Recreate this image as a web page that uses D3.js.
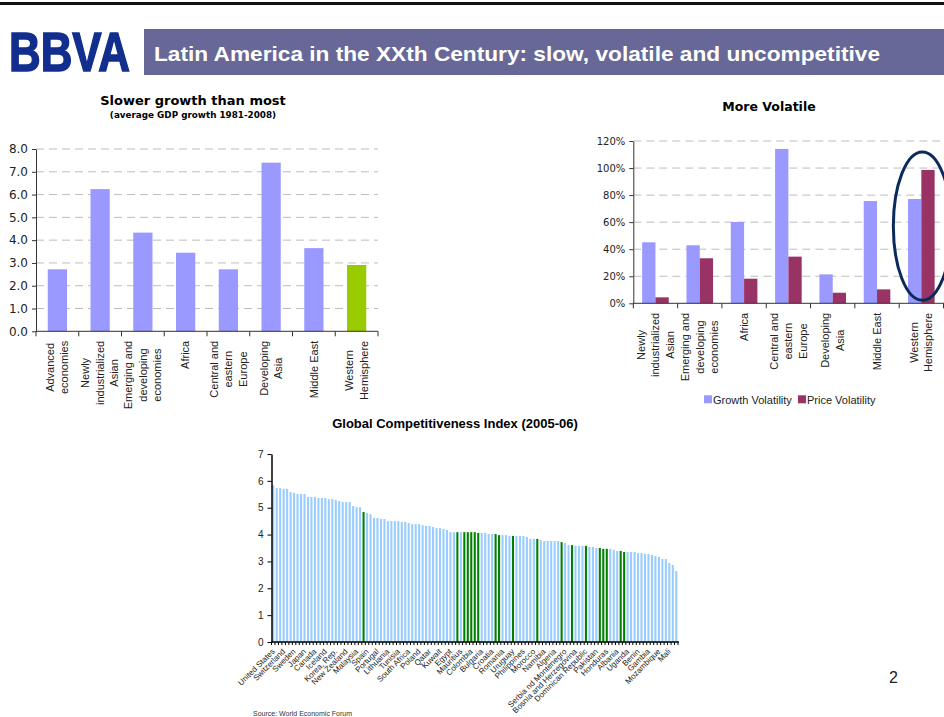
<!DOCTYPE html>
<html>
<head>
<meta charset="utf-8">
<script src="https://cdn.jsdelivr.net/npm/d3@7/dist/d3.min.js"></script>
<style>
  html, body { margin: 0; padding: 0; background: #fff; }
  svg { display: block; }
</style>
</head>
<body>
<svg id="chart" width="944" height="717"></svg>
<script>
// ---------- DATA ----------
const pageTitle = "Latin America in the XXth Century: slow, volatile and uncompetitive";

const growthTitle = "Slower growth than most";
const growthSubtitle = "(average GDP growth 1981-2008)";
const growthCategories = [
  ["Advanced", "economies"],
  ["Newly", "industrialized", "Asian"],
  ["Emerging and", "developing", "economies"],
  ["Africa"],
  ["Central and", "eastern", "Europe"],
  ["Developing", "Asia"],
  ["Middle East"],
  ["Western", "Hemisphere"]
];
const growthValues = [2.72, 6.24, 4.33, 3.45, 2.72, 7.40, 3.65, 2.91];
const growthTicks = [0, 1, 2, 3, 4, 5, 6, 7, 8];
const growthHighlight = "Western Hemisphere";

const volTitle = "More Volatile";
const volCategories = [
  ["Newly", "industrialized", "Asian"],
  ["Emerging and", "developing", "economies"],
  ["Africa"],
  ["Central and", "eastern", "Europe"],
  ["Developing", "Asia"],
  ["Middle East"],
  ["Western", "Hemisphere"]
];
const volSeries = ["Growth Volatility", "Price Volatility"];
const growthVolatility = [45.1, 42.9, 60.1, 114.1, 21.4, 75.6, 77.1];
const priceVolatility = [4.4, 33.3, 18.2, 34.5, 7.8, 10.3, 98.6];
const volTicks = [0, 20, 40, 60, 80, 100, 120];
const volCircled = "Western Hemisphere";

const gciTitle = "Global Competitiveness Index (2005-06)";
const gciValues = [
  5.84, 5.73, 5.73, 5.70, 5.70, 5.58, 5.55, 5.51, 5.51, 5.51,
  5.40, 5.40, 5.40, 5.36, 5.36, 5.36, 5.32, 5.32, 5.29, 5.25,
  5.21, 5.21, 5.21, 5.06, 5.02, 5.02, 4.84, 4.80, 4.76, 4.62,
  4.62, 4.58, 4.58, 4.50, 4.50, 4.50, 4.50, 4.47, 4.47, 4.43,
  4.39, 4.39, 4.39, 4.35, 4.32, 4.32, 4.28, 4.24, 4.24, 4.21,
  4.17, 4.09, 4.09, 4.09, 4.09, 4.09, 4.09, 4.09, 4.09, 4.06,
  4.06, 4.06, 4.02, 4.02, 4.02, 3.98, 3.98, 3.98, 3.95, 3.95,
  3.95, 3.95, 3.95, 3.91, 3.84, 3.84, 3.84, 3.80, 3.76, 3.76,
  3.76, 3.76, 3.76, 3.72, 3.69, 3.61, 3.61, 3.58, 3.58, 3.58,
  3.58, 3.54, 3.54, 3.50, 3.50, 3.47, 3.47, 3.47, 3.43, 3.39,
  3.39, 3.35, 3.35, 3.35, 3.35, 3.31, 3.31, 3.28, 3.28, 3.24,
  3.20, 3.17, 3.09, 3.09, 2.94, 2.87, 2.64
];
// ranks (1-based) of Latin American economies (green bars)
const gciLatamRanks = [27, 54, 56, 57, 58, 59, 60, 65, 66, 70, 77, 84, 87, 91, 95, 96, 97, 101, 102];
// labelled economies, one every third rank starting at rank 1
const gciLabels = [
  "United States", "Switzerland", "Sweden", "Japan", "Canada", "Iceland",
  "Korea, Rep.", "New Zealand", "Malaysia", "Spain", "Portugal", "Lithuania",
  "Tunisia", "South Africa", "Poland", "Qatar", "Kuwait", "Egypt", "Mauritius",
  "Colombia", "Bulgaria", "Croatia", "Romania", "Uruguay", "Philippines",
  "Morocco", "Namibia", "Algeria", "Serbia nd Montenegro", "Bosnia and Herzegovina",
  "Dominican Republic", "Pakistan", "Honduras", "Albania", "Uganda", "Benin",
  "Gambia", "Mozambique", "Mali"
];
const gciTicks = [0, 1, 2, 3, 4, 5, 6, 7];
const sourceNote = "Source: World Economic Forum";
const pageNumber = "2";

// ---------- STYLE ----------
const ARIAL = "'Liberation Sans', Arial, sans-serif";
const VERDANA = "'DejaVu Sans', Verdana, sans-serif";
const BAR_BLUE = "#9999ff";
const BAR_GREEN = "#99cc00";
const BAR_PLUM = "#993366";
const GCI_BLUE = "#99ccff";
const GCI_GREEN = "#008000";

const svg = d3.select("#chart");

// ---------- HEADER ----------
svg.append("rect").attr("x", 0).attr("y", 2).attr("width", 944).attr("height", 3).attr("fill", "#111");
svg.append("text")
  .attr("x", 9).attr("y", 71)
  .attr("font-family", ARIAL).attr("font-weight", "bold").attr("font-size", 56)
  .attr("fill", "#122f8e").attr("stroke", "#122f8e").attr("stroke-width", 1.6)
  .attr("textLength", 121).attr("lengthAdjust", "spacingAndGlyphs")
  .text("BBVA");
svg.append("rect").attr("x", 144).attr("y", 29).attr("width", 800).attr("height", 46).attr("fill", "#676897");
svg.append("text")
  .attr("x", 154).attr("y", 60.5)
  .attr("font-family", ARIAL).attr("font-weight", "bold").attr("font-size", 20.5)
  .attr("fill", "#fff")
  .attr("textLength", 726).attr("lengthAdjust", "spacingAndGlyphs")
  .text(pageTitle);

// helper: multi-line vertical category label, lines centred, block top at axis + gap
function catLabel(g, cx, topY, lines) {
  const lh = 14.5;
  const grp = g.append("g").attr("transform", `translate(${cx},${topY})`);
  const texts = lines.map((s, i) => grp.append("text")
    .attr("font-family", ARIAL).attr("font-size", 11).attr("fill", "#222")
    .attr("text-anchor", "middle")
    .attr("transform", "rotate(-90)")
    .attr("y", (i - (lines.length - 1) / 2) * lh)
    .attr("dy", "0.35em")
    .text(s));
  const maxLen = d3.max(texts, t => t.node().getComputedTextLength());
  texts.forEach(t => t.attr("x", -maxLen / 2));
}

function gridAndYAxis(g, y, ticks, x0, x1, fmt, labelX, fontSize) {
  g.selectAll(".grid").data(ticks.filter(d => d > 0)).join("line")
    .attr("x1", x0).attr("x2", x1)
    .attr("y1", d => y(d)).attr("y2", d => y(d))
    .attr("stroke", "#bdbdbd").attr("stroke-dasharray", "8,5").attr("stroke-width", 1);
  const ax = g.append("g").attr("transform", `translate(${x0},0)`)
    .call(d3.axisLeft(y).tickValues(ticks).tickSize(4).tickSizeOuter(0).tickFormat(fmt).tickPadding(labelX));
  ax.select(".domain").attr("stroke", "#333");
  ax.selectAll(".tick line").attr("stroke", "#333");
  ax.selectAll(".tick text").attr("font-family", VERDANA).attr("font-size", fontSize).attr("fill", "#222");
}

// ---------- CHART 1: growth ----------
{
  const g = svg.append("g");
  const x0 = 36, x1 = 378, yTop = 149, yBot = 331.3;
  const names = growthCategories.map(l => l.join(" "));
  const x = d3.scaleBand().domain(names).range([x0, x1]).paddingInner(0.55).paddingOuter(0.275);
  const y = d3.scaleLinear().domain([0, 8]).range([yBot, yTop]);

  g.append("text").attr("x", 193).attr("y", 105)
    .attr("text-anchor", "middle").attr("font-family", VERDANA).attr("font-weight", "bold")
    .attr("font-size", 13).text(growthTitle);
  g.append("text").attr("x", 193).attr("y", 118)
    .attr("text-anchor", "middle").attr("font-family", VERDANA).attr("font-weight", "bold")
    .attr("font-size", 8.8).text(growthSubtitle);

  gridAndYAxis(g, y, growthTicks, x0, x1, d3.format(".1f"), 4, 12);

  g.selectAll(".bar").data(names).join("rect")
    .attr("x", d => x(d)).attr("width", x.bandwidth())
    .attr("y", (d, i) => y(growthValues[i])).attr("height", (d, i) => yBot - y(growthValues[i]))
    .attr("fill", d => d === growthHighlight ? BAR_GREEN : BAR_BLUE);

  g.append("line").attr("x1", x0).attr("x2", x1).attr("y1", yBot).attr("y2", yBot).attr("stroke", "#333");
  const step = x.step();
  g.selectAll(".xt").data(d3.range(names.length + 1)).join("line")
    .attr("x1", i => x0 + i * step).attr("x2", i => x0 + i * step)
    .attr("y1", yBot).attr("y2", yBot + 5).attr("stroke", "#333");
  growthCategories.forEach((lines, i) => catLabel(g, x(names[i]) + x.bandwidth() / 2, yBot + 9.5, lines));
}

// ---------- CHART 2: volatility ----------
{
  const g = svg.append("g");
  const x0 = 633.3, x1 = 943.5, yTop = 141, yBot = 303.3;
  const names = volCategories.map(l => l.join(" "));
  const x = d3.scaleBand().domain(names).range([x0, x1]).paddingInner(0.4).paddingOuter(0.2);
  const xs = d3.scaleBand().domain(volSeries).range([0, x.bandwidth()]);
  const y = d3.scaleLinear().domain([0, 120]).range([yBot, yTop]);
  const seriesVals = [growthVolatility, priceVolatility];
  const seriesCol = [BAR_BLUE, BAR_PLUM];

  g.append("text").attr("x", 769).attr("y", 111)
    .attr("text-anchor", "middle").attr("font-family", VERDANA).attr("font-weight", "bold")
    .attr("font-size", 12.5).text(volTitle);

  gridAndYAxis(g, y, volTicks, x0, 944, d => d + "%", 4, 10);

  volSeries.forEach((s, si) => {
    g.selectAll(".b" + si).data(names).join("rect")
      .attr("x", d => x(d) + xs(s)).attr("width", xs.bandwidth())
      .attr("y", (d, i) => y(seriesVals[si][i])).attr("height", (d, i) => yBot - y(seriesVals[si][i]))
      .attr("fill", seriesCol[si]);
  });

  g.append("line").attr("x1", x0).attr("x2", 944).attr("y1", yBot).attr("y2", yBot).attr("stroke", "#333");
  const step = x.step();
  g.selectAll(".xt").data(d3.range(names.length + 1)).join("line")
    .attr("x1", i => x0 + i * step).attr("x2", i => x0 + i * step)
    .attr("y1", yBot).attr("y2", yBot + 5).attr("stroke", "#333");
  volCategories.forEach((lines, i) => catLabel(g, x(names[i]) + x.bandwidth() / 2, yBot + 9.5, lines));

  // circle around highlighted group
  const ci = names.indexOf(volCircled);
  const cx = x(names[ci]) + x.bandwidth() / 2 + 1;
  const top = y(d3.max(seriesVals, v => v[ci])) - 18;
  const bot = yBot - 3;
  g.append("ellipse").attr("cx", cx).attr("cy", (top + bot) / 2)
    .attr("rx", 29).attr("ry", (bot - top) / 2)
    .attr("fill", "none").attr("stroke", "#0b2a5c").attr("stroke-width", 3);

  // legend
  const leg = g.append("g");
  const lx = [704, 798];
  volSeries.forEach((s, si) => {
    leg.append("rect").attr("x", lx[si]).attr("y", 395.3).attr("width", 8).attr("height", 8).attr("fill", seriesCol[si]);
    leg.append("text").attr("x", lx[si] + 9).attr("y", 403.5)
      .attr("font-family", ARIAL).attr("font-size", 11).attr("fill", "#222").text(s);
  });
}

// ---------- CHART 3: GCI ----------
{
  const g = svg.append("g");
  const x0 = 271.5, x1 = 678, yTop = 454, yBot = 642;
  const ranks = gciValues.map((v, i) => i + 1);
  const x = d3.scaleBand().domain(ranks).range([x0, x1]).paddingInner(0.4).paddingOuter(0.2);
  const y = d3.scaleLinear().domain([0, 7]).range([yBot, yTop]);

  g.append("text").attr("x", 455).attr("y", 428)
    .attr("text-anchor", "middle").attr("font-family", ARIAL).attr("font-weight", "bold")
    .attr("font-size", 13).text(gciTitle);

  g.selectAll(".bar").data(ranks).join("rect")
    .attr("x", d => x(d)).attr("width", x.bandwidth())
    .attr("y", d => y(gciValues[d - 1])).attr("height", d => yBot - y(gciValues[d - 1]))
    .attr("fill", d => gciLatamRanks.includes(d) ? GCI_GREEN : GCI_BLUE);

  const ax = g.append("g").attr("transform", `translate(${x0},0)`)
    .call(d3.axisLeft(y).tickValues(gciTicks).tickSize(4).tickSizeOuter(0).tickFormat(d3.format("d")).tickPadding(4));
  ax.select(".domain").attr("stroke", "#000").attr("stroke-width", 1.5);
  ax.selectAll(".tick line").attr("stroke", "#000");
  ax.selectAll(".tick text").attr("font-family", ARIAL).attr("font-size", 10).attr("fill", "#222");

  g.append("line").attr("x1", x0).attr("x2", x1 + 1).attr("y1", yBot).attr("y2", yBot).attr("stroke", "#000").attr("stroke-width", 1.5);
  const step = x.step();
  g.selectAll(".xt").data(d3.range(ranks.length + 1)).join("line")
    .attr("x1", i => x0 + i * step).attr("x2", i => x0 + i * step)
    .attr("y1", yBot).attr("y2", yBot + 3).attr("stroke", "#000");

  g.selectAll(".lab").data(gciLabels).join("text")
    .attr("transform", (d, i) => {
      const r = 1 + i * 3;
      return `translate(${x(r) + x.bandwidth() / 2},${yBot + 8}) rotate(-45)`;
    })
    .attr("text-anchor", "end").attr("dy", "0.35em")
    .attr("font-family", ARIAL).attr("font-size", 8).attr("fill", "#222")
    .text(d => d);

  g.append("text").attr("x", 253).attr("y", 716)
    .attr("font-family", ARIAL).attr("font-size", 7).attr("fill", "#333").text(sourceNote);
}

svg.append("text").attr("x", 889).attr("y", 683)
  .attr("font-family", ARIAL).attr("font-size", 16).attr("fill", "#222").text(pageNumber);
</script>
</body>
</html>
